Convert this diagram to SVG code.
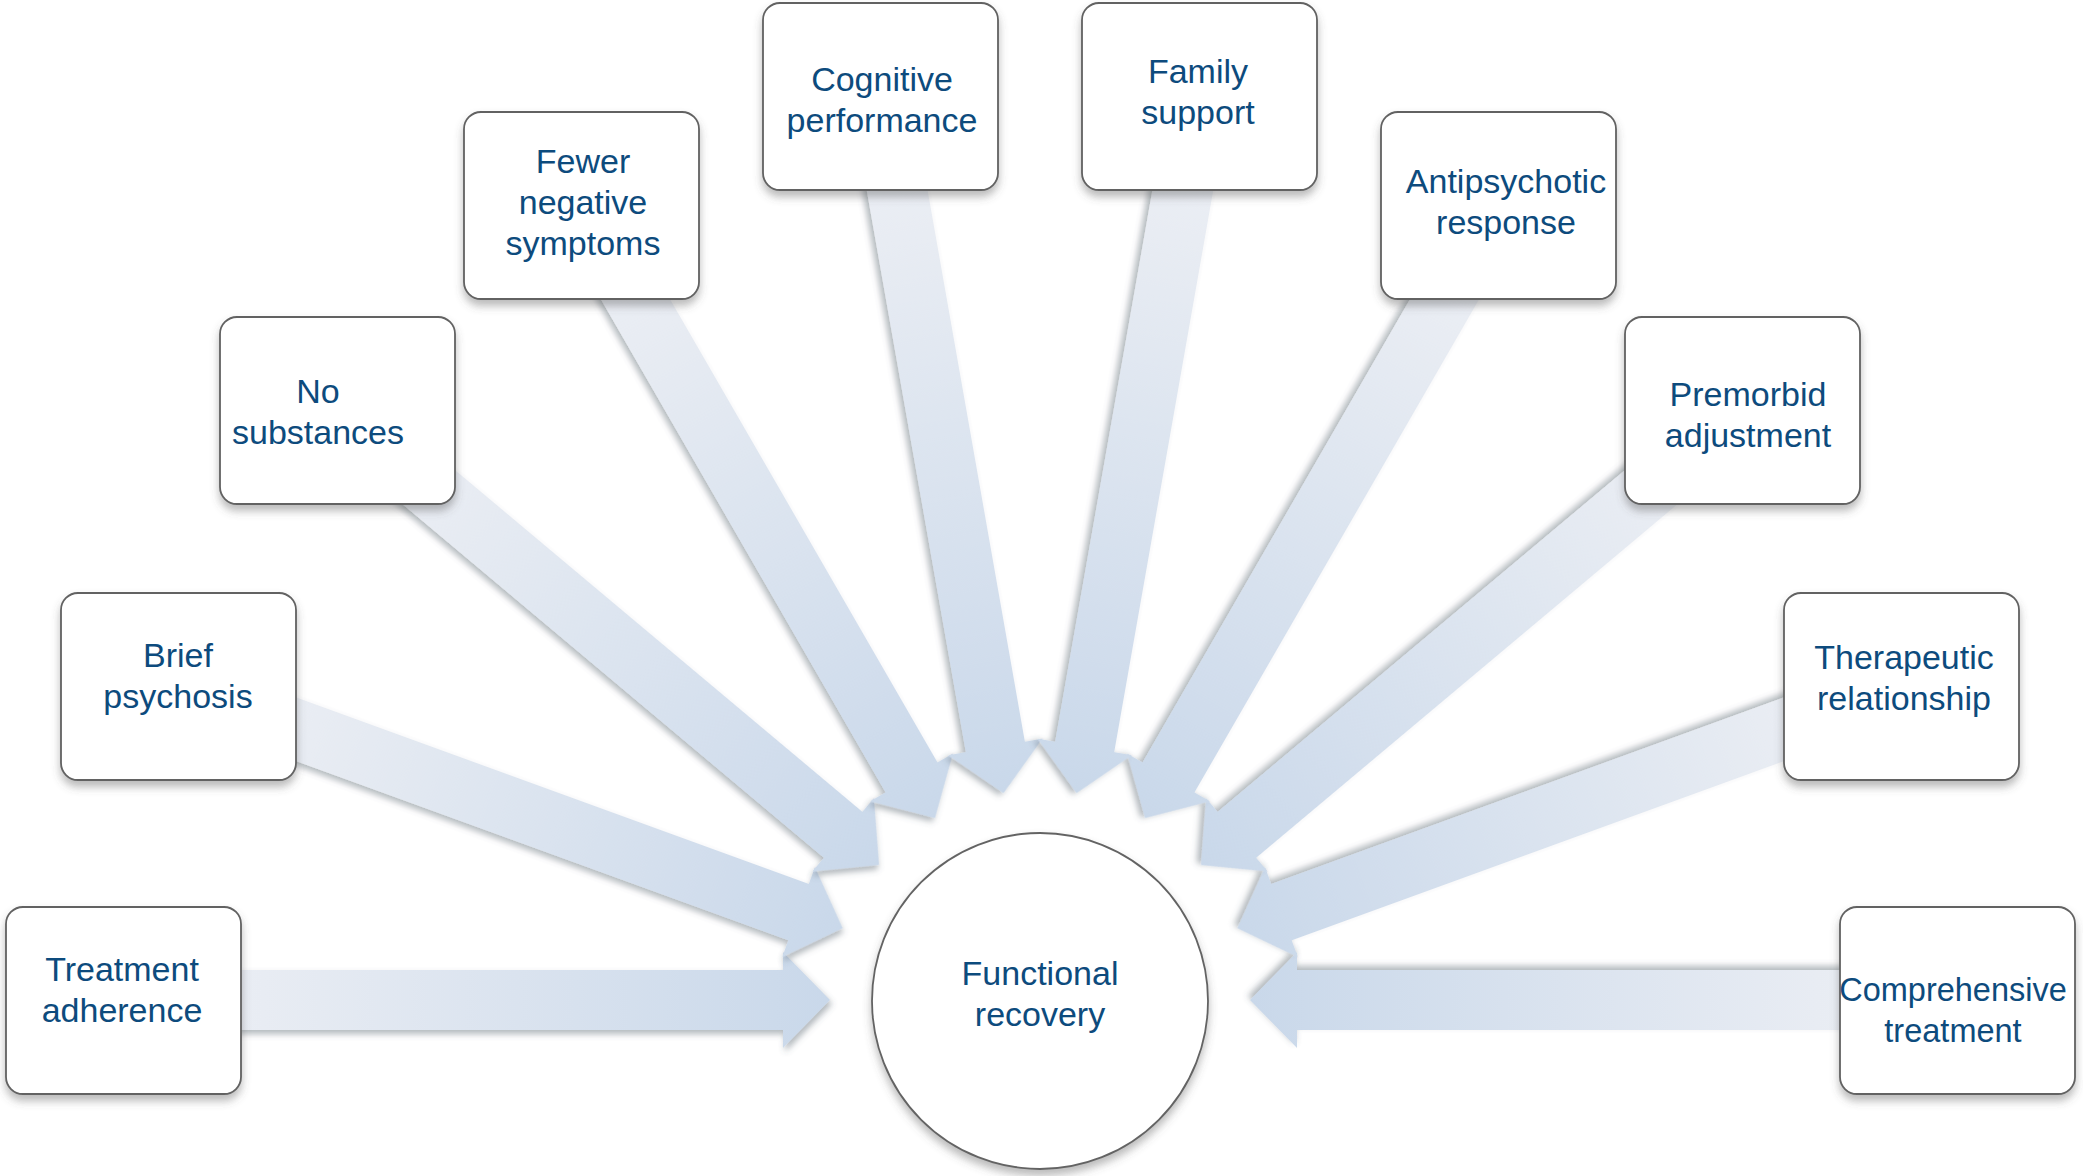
<svg xmlns="http://www.w3.org/2000/svg" xmlns:xlink="http://www.w3.org/1999/xlink" width="2083" height="1176" viewBox="0 0 2083 1176">
<style>
  .box { fill: #ffffff; stroke: #626262; stroke-width: 1.8; filter: url(#boxShadow); }
  .lbl { font-family: "Liberation Sans", Arial, Helvetica, sans-serif; font-size: 34px; fill: #0d4b7d; text-anchor: middle; }
  .arrow { filter: url(#arrowShadow); }
</style>
<defs>
  <linearGradient id="ag" x1="0" y1="0" x2="1" y2="0">
    <stop offset="0" stop-color="#eef1f6"/>
    <stop offset="0.2" stop-color="#e8ecf3"/>
    <stop offset="1" stop-color="#c9d8ea"/>
  </linearGradient>
  <filter id="arrowShadow" x="-10%" y="-30%" width="120%" height="160%">
    <feDropShadow dx="2" dy="4" stdDeviation="3" flood-color="#4a5560" flood-opacity="0.42"/>
  </filter>
  <filter id="boxShadow" x="-10%" y="-10%" width="120%" height="130%">
    <feDropShadow dx="0" dy="6" stdDeviation="4" flood-color="#555555" flood-opacity="0.4"/>
  </filter>
  <polygon id="arr" points="0,0 -47,-48 -47,-30 -707,-30 -707,30 -47,30 -47,48" fill="url(#ag)"/>
</defs>
<rect x="0" y="0" width="2083" height="1176" fill="#ffffff"/>

<g id="connectors">
  <use class="arrow" xlink:href="#arr" href="#arr" transform="translate(830,1000) rotate(0)"/>
  <use class="arrow" xlink:href="#arr" href="#arr" transform="translate(1250,1000) rotate(180)"/>
  <use class="arrow" xlink:href="#arr" href="#arr" transform="translate(842.7,928.2) rotate(20)"/>
  <use class="arrow" xlink:href="#arr" href="#arr" transform="translate(1237.3,928.2) rotate(160)"/>
  <use class="arrow" xlink:href="#arr" href="#arr" transform="translate(879.1,865) rotate(40)"/>
  <use class="arrow" xlink:href="#arr" href="#arr" transform="translate(1200.9,865) rotate(140)"/>
  <use class="arrow" xlink:href="#arr" href="#arr" transform="translate(935,818.1) rotate(60)"/>
  <use class="arrow" xlink:href="#arr" href="#arr" transform="translate(1145,818.1) rotate(120)"/>
  <use class="arrow" xlink:href="#arr" href="#arr" transform="translate(1003.5,793.2) rotate(80)"/>
  <use class="arrow" xlink:href="#arr" href="#arr" transform="translate(1076.5,793.2) rotate(100)"/>
</g>

<g id="node-functional-recovery">
  <circle cx="1040" cy="1001" r="168" fill="#ffffff" stroke="#646464" stroke-width="1.8" filter="url(#boxShadow)"/>
  <text class="lbl" x="1040" y="985">Functional</text>
  <text class="lbl" x="1040" y="1026">recovery</text>
</g>

<g id="node-treatment-adherence">
  <rect class="box" x="6" y="907" width="235" height="187" rx="17"/>
  <text class="lbl" x="122" y="981">Treatment</text>
  <text class="lbl" x="122" y="1022">adherence</text>
</g>

<g id="node-brief-psychosis">
  <rect class="box" x="61" y="593" width="235" height="187" rx="17"/>
  <text class="lbl" x="178" y="667">Brief</text>
  <text class="lbl" x="178" y="708">psychosis</text>
</g>

<g id="node-no-substances">
  <rect class="box" x="220" y="317" width="235" height="187" rx="17"/>
  <text class="lbl" x="318" y="403">No</text>
  <text class="lbl" x="318" y="444">substances</text>
</g>

<g id="node-fewer-negative-symptoms">
  <rect class="box" x="464" y="112" width="235" height="187" rx="17"/>
  <text class="lbl" x="583" y="173">Fewer</text>
  <text class="lbl" x="583" y="214">negative</text>
  <text class="lbl" x="583" y="255">symptoms</text>
</g>

<g id="node-cognitive-performance">
  <rect class="box" x="763" y="3" width="235" height="187" rx="17"/>
  <text class="lbl" x="882" y="91">Cognitive</text>
  <text class="lbl" x="882" y="132">performance</text>
</g>

<g id="node-family-support">
  <rect class="box" x="1082" y="3" width="235" height="187" rx="17"/>
  <text class="lbl" x="1198" y="83">Family</text>
  <text class="lbl" x="1198" y="124">support</text>
</g>

<g id="node-antipsychotic-response">
  <rect class="box" x="1381" y="112" width="235" height="187" rx="17"/>
  <text class="lbl" x="1506" y="193">Antipsychotic</text>
  <text class="lbl" x="1506" y="234">response</text>
</g>

<g id="node-premorbid-adjustment">
  <rect class="box" x="1625" y="317" width="235" height="187" rx="17"/>
  <text class="lbl" x="1748" y="406">Premorbid</text>
  <text class="lbl" x="1748" y="447">adjustment</text>
</g>

<g id="node-therapeutic-relationship">
  <rect class="box" x="1784" y="593" width="235" height="187" rx="17"/>
  <text class="lbl" x="1904" y="669">Therapeutic</text>
  <text class="lbl" x="1904" y="710">relationship</text>
</g>

<g id="node-comprehensive-treatment">
  <rect class="box" x="1840" y="907" width="235" height="187" rx="17"/>
  <text class="lbl" x="1953" y="1001" style="font-size:32.5px">Comprehensive</text>
  <text class="lbl" x="1953" y="1042" style="font-size:32.5px">treatment</text>
</g>
</svg>
